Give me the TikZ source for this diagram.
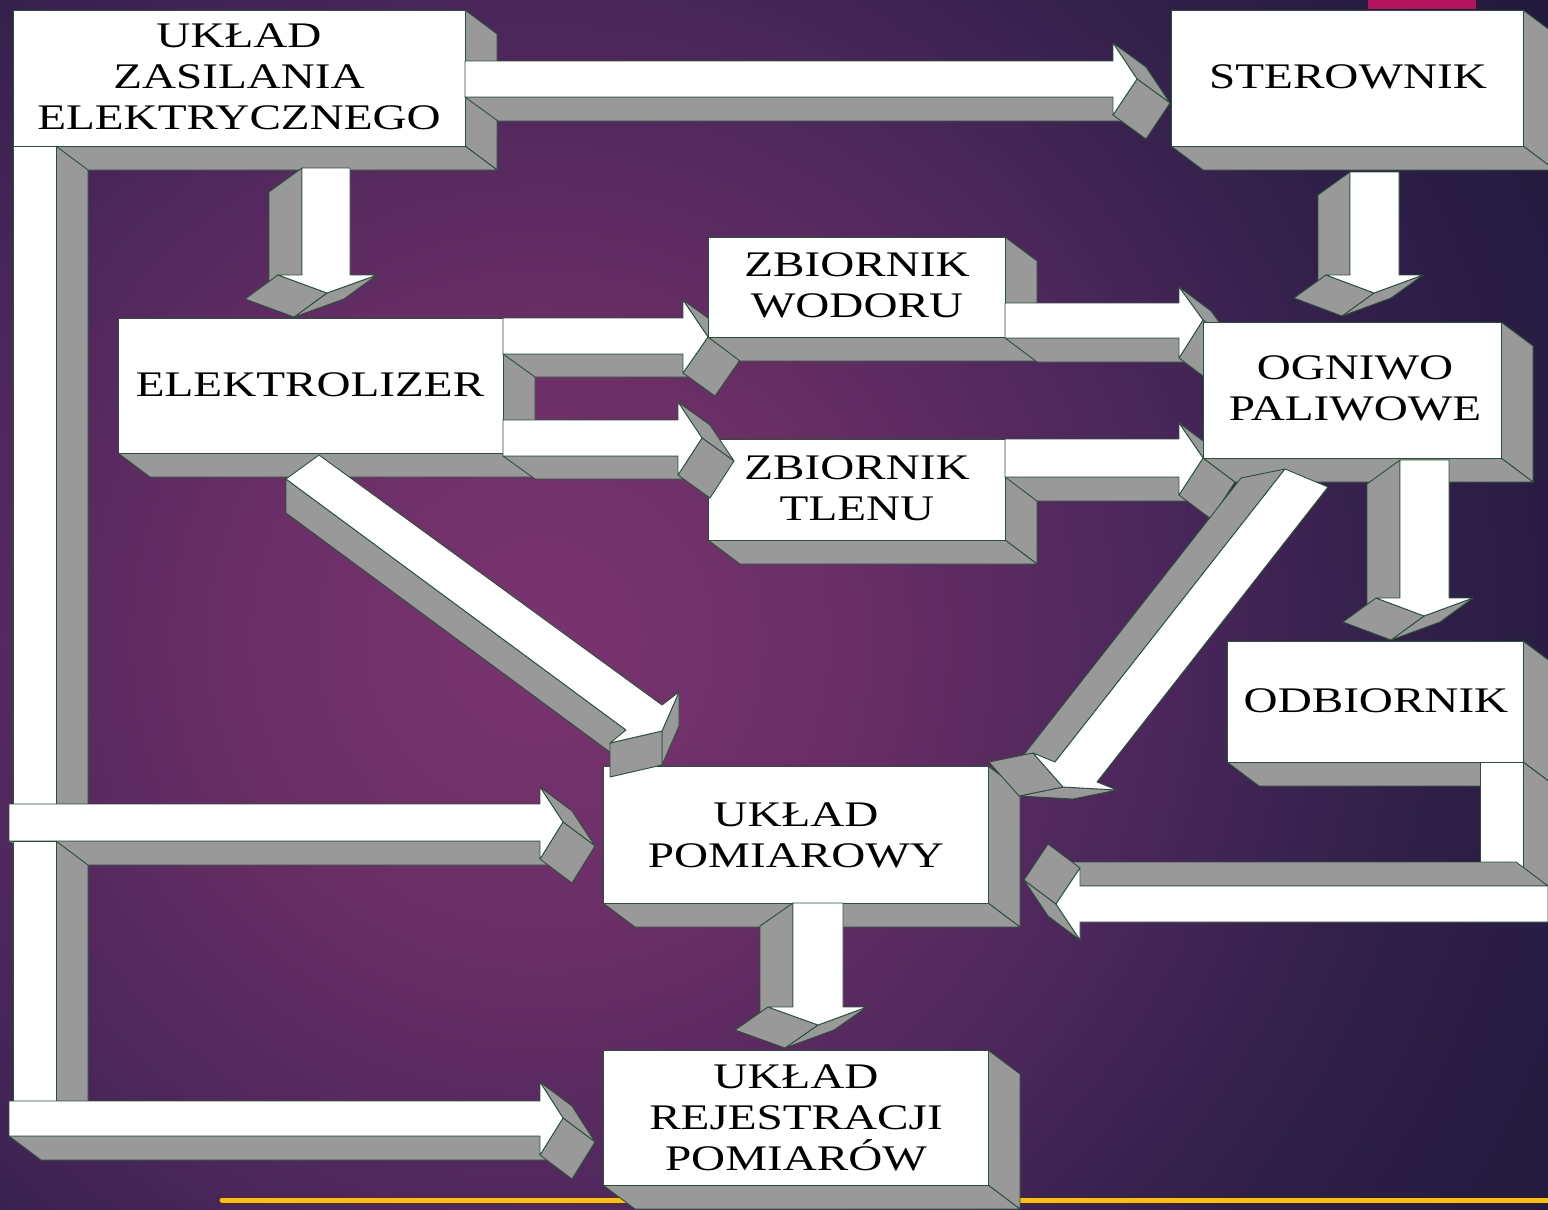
\documentclass[tikz,border=0pt]{standalone}
\usepackage{fontspec}
\setmainfont{Liberation Serif}
\newfontfamily\boxfont[FakeStretch=1.31]{Liberation Serif}
\definecolor{bgcore}{RGB}{122,52,112}
\definecolor{bgmid}{RGB}{106,46,102}
\definecolor{bgouter}{RGB}{76,39,92}
\definecolor{bgedge}{RGB}{46,31,72}
\definecolor{bgcorner}{RGB}{33,26,60}
\definecolor{facegray}{RGB}{153,153,153}
\definecolor{edgegreen}{RGB}{40,82,56}
\definecolor{accentbar}{RGB}{255,192,0}
\definecolor{topmark}{RGB}{180,19,94}
\pgfdeclareradialshading{bgglow}{\pgfpoint{0bp}{0bp}}{%
  color(0bp)=(bgcore); color(300bp)=(bgmid); color(600bp)=(bgouter);
  color(900bp)=(bgedge); color(1200bp)=(bgcorner); color(1300bp)=(bgcorner)}
\tikzset{
  sideface/.style={fill=facegray, draw=edgegreen, line width=0.9pt, line join=round},
  frontface/.style={fill=white, draw=edgegreen, line width=0.9pt, line join=round},
  lbl/.style={font=\boxfont\fontsize{36}{41}\selectfont, align=center, inner sep=0pt, text=black}
}
% extruded block: #1,#2 = depth offset, #3 = outline x/y (clockwise, first point repeated)
\newcommand\solid[3]{%
  \foreach \x/\y [count=\i, remember=\x as \px, remember=\y as \py] in {#3}{%
    \ifnum\i=1
      \xdef\solidpath{(\x,\y)}%
    \else
      \xdef\solidpath{\solidpath -- (\x,\y)}%
      \pgfmathsetmacro\vis{(\y-\py)*((#1)/32)-(\x-\px)*((#2)/32)}%
      \ifdim\vis pt>0.01pt
        \filldraw[sideface] (\px,\py) -- (\x,\y) -- ++(#1,#2) -- ++(\px-\x,\py-\y) -- cycle;
      \fi
    \fi
  }%
  \filldraw[frontface] \solidpath -- cycle;
}

\begin{document}
\begin{tikzpicture}[x=1pt,y=-1pt]
  \useasboundingbox (0,0) rectangle (1548,1210);
  \begin{scope}
    \clip (0,0) rectangle (1548,1210);
    \node[inner sep=0pt] (bg) at (540,640) {\pgfuseshading{bgglow}};
  \end{scope}
  \draw[accentbar, line width=5pt, line cap=round] (222,1200) -- (1548,1200);
  \fill[topmark] (1368,0) rectangle (1476,9);

  \solid{32}{24}{13/10, 465/10, 465/146, 13/146, 13/10} %zasilanie
  \solid{32}{24}{13/146, 56/146, 56/804, 13/804, 13/146} %pion gorny
  \solid{32}{24}{540/841, 9/841, 9/804, 540/804, 540/787, 563/822, 540/859, 540/841}
  \solid{32}{24}{13/841, 56/841, 56/1101, 13/1101, 13/841} %pion dolny
  \solid{32}{24}{540/1136, 9/1136, 9/1101, 540/1101, 540/1082, 563/1118, 540/1155, 540/1136}
  \solid{33}{24}{1113/97, 465/97, 465/61, 1113/61, 1113/43, 1137/79, 1113/115, 1113/97}
  \solid{32}{24}{1171/10, 1523/10, 1523/146, 1171/146, 1171/10} %sterownik
  \solid{-33}{24}{302/275, 302/168, 350/168, 350/275, 377/275, 327/293, 278/275, 302/275}
  \solid{-32}{23}{1350/275, 1350/172, 1399/172, 1399/275, 1423/275, 1374/293, 1326/275, 1350/275}
  \solid{32}{24}{118/318, 503/318, 503/453, 118/453, 118/318} %elektrolizer
  \solid{32}{23}{683/354, 503/354, 503/318, 683/318, 683/300, 708/337, 683/373, 683/354}
  \solid{32}{24}{708/237, 1005/237, 1005/337, 708/337, 708/237} %wodor
  \solid{32}{24}{708/439, 1005/439, 1005/540, 708/540, 708/439} %tlen
  \solid{32}{23}{678/456, 503/456, 503/420, 678/420, 678/402, 702/438, 678/475, 678/456}
  \solid{32}{24}{1179/338, 1005/338, 1005/303, 1179/303, 1179/287, 1203/320, 1179/358, 1179/338}
  \solid{32}{24}{1179/477, 1005/477, 1005/439, 1179/439, 1179/423, 1203/458, 1179/495, 1179/477}
  \solid{32}{24}{1203/322, 1501/322, 1501/458, 1203/458, 1203/322} %ogniwo
  \solid{32}{24}{603/766, 988/766, 988/903, 603/903, 603/766} %pomiar
  \solid{0}{34}{626/730, 286/479, 319/455, 662/705, 679/692, 662/731, 610/743, 626/730}
  \solid{-44}{9}{1055/762, 1285/469, 1328/487, 1097/782, 1117/790, 1063/787, 1033/753, 1055/762}
  \solid{-33}{24}{1400/598, 1400/460, 1449/460, 1449/598, 1473/598, 1424/616, 1376/598, 1400/598}
  \solid{32}{24}{1227/641, 1523/641, 1523/762, 1227/762, 1227/641} %odbiornik
  \solid{32}{24}{1480/762, 1523/762, 1523/886, 1480/886, 1480/762}
  \solid{-32}{-24}{1080/886, 1548/886, 1548/922, 1080/922, 1080/940, 1056/904, 1080/868, 1080/886}
  \solid{-33}{23}{793/1007, 793/903, 843/903, 843/1007, 867/1007, 818/1025, 768/1007, 793/1007}
  \solid{32}{24}{603/1050, 988/1050, 988/1185, 603/1185, 603/1050} %rejestracja

  \node[lbl] (zas) at (239,77) {UKŁAD\\ZASILANIA\\ELEKTRYCZNEGO};
  \node[lbl] (ster) at (1348,77) {STEROWNIK};
  \node[lbl] (elek) at (310,385) {ELEKTROLIZER};
  \node[lbl] (wod) at (857,285) {ZBIORNIK\\WODORU};
  \node[lbl] (tlen) at (857,488) {ZBIORNIK\\TLENU};
  \node[lbl] (ogn) at (1355,388) {OGNIWO\\PALIWOWE};
  \node[lbl] (odb) at (1376,701) {ODBIORNIK};
  \node[lbl] (pom) at (796,835) {UKŁAD\\POMIAROWY};
  \node[lbl] (rej) at (796,1118) {UKŁAD\\REJESTRACJI\\POMIARÓW};
\end{tikzpicture}
\end{document}
